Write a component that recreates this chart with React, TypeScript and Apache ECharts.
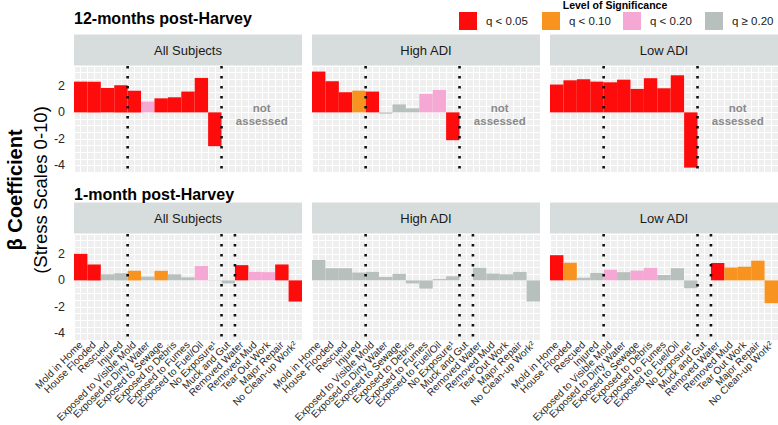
import React, { useEffect, useRef } from 'react';
import * as echarts from 'echarts';

const FONT = 'Liberation Sans, Arial, Helvetica, sans-serif';

const categories = [
  'Mold in Home', 'House Flooded', 'Rescued', 'Injured',
  'Exposed to Visible Mold', 'Exposed to Dirty Water', 'Exposed to Sewage',
  'Exposed to Debris', 'Exposed to Fumes', 'Exposed to Fuel/Oil', 'No Exposure\u00B9',
  'Muck and Gut', 'Removed Water', 'Removed Mud', 'Tear Out Work', 'Major Repair',
  'No Clean-up Work\u00B2',
];

const rowTitles = ['12-months post-Harvey', '1-month post-Harvey'];
const panelTitles = ['All Subjects', 'High ADI', 'Low ADI'];
const yTickLabels = [-4, -2, 0, 2];

const sigLabels = ['q < 0.05', 'q < 0.10', 'q < 0.20', 'q \u2265 0.20'];
const sigColors = ['#FE0B0B', '#F7931E', '#F4A8D3', '#B8C0BE'];

// 12 months (codes: 0 q<0.05, 1 q<0.10, 2 q<0.20, 3 q>=0.20)
const all12 = [2.32, 2.32, 1.84, 2.05, 1.64, 0.81, 1.06, 1.14, 1.57, 2.6, -2.55, null, null, null, null, null, null];
const all12Sig = [0, 0, 0, 0, 0, 2, 0, 0, 0, 0, 0, 3, 3, 3, 3, 3, 3];
const high12 = [3.08, 2.35, 1.52, 1.64, 1.57, -0.1, 0.6, 0.3, 1.39, 1.69, -2.1, null, null, null, null, null, null];
const high12Sig = [0, 0, 0, 1, 0, 3, 3, 3, 2, 2, 0, 3, 3, 3, 3, 3, 3];
const low12 = [2.1, 2.42, 2.5, 2.32, 2.27, 2.47, 1.77, 2.58, 1.82, 2.8, -4.17, null, null, null, null, null, null];
const low12Sig = [0, 0, 0, 0, 0, 0, 0, 0, 0, 0, 0, 3, 3, 3, 3, 3, 3];

// 1 month
const all1 = [2.0, 1.2, 0.46, 0.54, 0.72, 0.28, 0.72, 0.46, 0.23, 1.08, 0.03, -0.23, 1.15, 0.64, 0.62, 1.2, -1.6];
const all1Sig = [0, 0, 3, 3, 1, 3, 1, 3, 3, 2, 3, 3, 0, 2, 2, 0, 0];
const high1 = [1.54, 0.92, 0.92, 0.59, 0.64, 0.26, 0.49, -0.23, -0.62, 0.1, 0.31, 0.02, 0.95, 0.51, 0.46, 0.64, -1.59];
const high1Sig = [3, 3, 3, 3, 3, 3, 3, 3, 3, 3, 3, 3, 3, 3, 3, 3, 3];
const low1 = [1.9, 1.33, 0.2, 0.56, 0.8, 0.62, 0.74, 0.95, 0.41, 0.92, -0.59, 0.01, 1.31, 0.97, 1.03, 1.49, -1.72];
const low1Sig = [0, 1, 3, 3, 2, 3, 2, 2, 3, 3, 3, 3, 0, 1, 1, 1, 1];

const topDividers = [4, 11];
const bottomDividers = [4, 11, 12];

const panelValues = [all12, high12, low12, all1, high1, low1];
const panelSigs = [all12Sig, high12Sig, low12Sig, all1Sig, high1Sig, low1Sig];

// layout
const PANEL_LEFTS = [74, 312, 550];
const PANEL_W = 228;
const ROW_TOPS = [66, 234];
const PANEL_H = 106;
const STRIP_H = 31;
const Y_MIN = -4.5;
const Y_MAX = 3.5;

function buildOption() {
  const grid: any[] = [];
  const xAxis: any[] = [];
  const yAxis: any[] = [];
  const series: any[] = [];
  const graphic: any[] = [];

  for (let r = 0; r < 2; r++) {
    for (let c = 0; c < 3; c++) {
      const g = r * 3 + c;
      grid.push({
        left: PANEL_LEFTS[c], top: ROW_TOPS[r], width: PANEL_W, height: PANEL_H,
        show: true, backgroundColor: '#EFEFEF', borderWidth: 0,
        containLabel: false, outerBoundsMode: 'none',
      });
      // main category axis
      xAxis.push({
        type: 'category', gridIndex: g, data: categories, position: 'bottom',
        axisLine: { show: false }, axisTick: { show: false }, splitLine: { show: false },
        axisLabel: {
          show: r === 1, interval: 0, rotate: 45, margin: 3,
          fontSize: 10.1, color: '#262626', fontFamily: FONT,
        },
      });
      // helper axis for vertical grid lines (half-category spacing)
      xAxis.push({
        type: 'value', gridIndex: g, min: 0, max: categories.length * 2, interval: 1,
        position: 'top',
        axisLine: { show: false }, axisTick: { show: false }, axisLabel: { show: false },
        splitLine: { show: true, lineStyle: { color: '#FFFFFF', width: 1 } },
      });
      yAxis.push({
        type: 'value', gridIndex: g, min: Y_MIN, max: Y_MAX, interval: 0.5,
        axisLine: { show: false }, axisTick: { show: false },
        splitLine: { show: true, lineStyle: { color: '#FFFFFF', width: 1 } },
        axisLabel: {
          show: c === 0, margin: 9, fontSize: 12.5, color: '#262626', fontFamily: FONT,
          formatter: (v: number) => (yTickLabels.includes(v) ? String(v) : ''),
        },
      });

      const vals = panelValues[g];
      const sigs = panelSigs[g];
      series.push({
        type: 'bar', xAxisIndex: g * 2, yAxisIndex: g,
        barCategoryGap: '0%', barGap: '0%',
        data: vals.map((v, i) => (v === null ? '-' : { value: v, itemStyle: { color: sigColors[sigs[i]] } })),
        z: 2,
      });

      const dividers = r === 0 ? topDividers : bottomDividers;
      series.push({
        type: 'custom', xAxisIndex: g * 2, yAxisIndex: g, z: 5, silent: true,
        data: dividers.map((b) => [b, 0]),
        renderItem: (params: any, api: any) => {
          const b = api.value(0);
          const pt = api.coord([b, 0]);
          const bw = api.size([1, 0])[0];
          const x = pt[0] - bw / 2;
          const cs = params.coordSys;
          return {
            type: 'line',
            shape: { x1: x, y1: cs.y, x2: x, y2: cs.y + cs.height },
            style: { stroke: '#111', lineWidth: 2.6, lineDash: [2.6, 7.4] },
          };
        },
      });

      if (r === 0) {
        series.push({
          type: 'custom', xAxisIndex: g * 2, yAxisIndex: g, z: 5, silent: true,
          data: [[13, -0.15]],
          renderItem: (params: any, api: any) => {
            const pt = api.coord([api.value(0), api.value(1)]);
            const bw = api.size([1, 0])[0];
            return {
              type: 'text',
              style: {
                text: 'not\nassessed', x: pt[0] + bw / 2, y: pt[1],
                align: 'center', verticalAlign: 'middle',
                fontSize: 11.5, fontWeight: 'bold', fontFamily: FONT,
                fill: '#8A8A8A', lineHeight: 13,
              },
            };
          },
        });
      }

      // strip
      graphic.push({
        type: 'rect',
        shape: { x: PANEL_LEFTS[c], y: ROW_TOPS[r] - STRIP_H - 0.5, width: PANEL_W, height: STRIP_H },
        style: { fill: '#D7DDDC' },
      });
      graphic.push({
        type: 'text',
        x: PANEL_LEFTS[c] + PANEL_W / 2, y: ROW_TOPS[r] - STRIP_H / 2 - 0.5,
        style: {
          text: panelTitles[c], align: 'center', verticalAlign: 'middle',
          fontSize: 13, fontFamily: FONT, fill: '#1A1A1A',
        },
      });
    }
    graphic.push({
      type: 'text', x: PANEL_LEFTS[0], y: r === 0 ? 18 : 194,
      style: {
        text: rowTitles[r], align: 'left', verticalAlign: 'middle',
        fontSize: 16, fontWeight: 'bold', fontFamily: FONT, fill: '#000',
      },
    });
  }

  // y axis title
  graphic.push({
    type: 'text', x: 15, y: 190, rotation: Math.PI / 2,
    style: {
      text: '\u03B2 Coefficient', align: 'center', verticalAlign: 'middle',
      fontSize: 20, fontWeight: 'bold', fontFamily: FONT, fill: '#000',
    },
  });
  graphic.push({
    type: 'text', x: 40, y: 190, rotation: Math.PI / 2,
    style: {
      text: '(Stress Scales 0-10)', align: 'center', verticalAlign: 'middle',
      fontSize: 18.5, fontFamily: FONT, fill: '#000',
    },
  });

  // legend
  graphic.push({
    type: 'text', x: 615, y: 5,
    style: {
      text: 'Level of Significance', align: 'center', verticalAlign: 'middle',
      fontSize: 10.5, fontWeight: 'bold', fontFamily: FONT, fill: '#000',
    },
  });
  const keyX = [459, 542, 623, 705];
  sigLabels.forEach((lab, i) => {
    graphic.push({
      type: 'rect', shape: { x: keyX[i], y: 12, width: 18, height: 18 },
      style: { fill: sigColors[i] },
    });
    graphic.push({
      type: 'text', x: keyX[i] + 27, y: 21,
      style: {
        text: lab, align: 'left', verticalAlign: 'middle',
        fontSize: 11.5, fontFamily: FONT, fill: '#1A1A1A',
      },
    });
  });

  return {
    animation: false,
    backgroundColor: '#FFFFFF',
    textStyle: { fontFamily: FONT },
    grid, xAxis, yAxis, series, graphic,
  };
}

export default function App() {
  const ref = useRef<HTMLDivElement>(null);
  useEffect(() => {
    const chart = echarts.init(ref.current!, null, { renderer: 'svg' });
    chart.setOption(buildOption() as any);
    return () => chart.dispose();
  }, []);
  return (
    <div
      ref={ref}
      style={{ position: 'fixed', left: 0, top: 0, width: 778, height: 425 }}
    />
  );
}
